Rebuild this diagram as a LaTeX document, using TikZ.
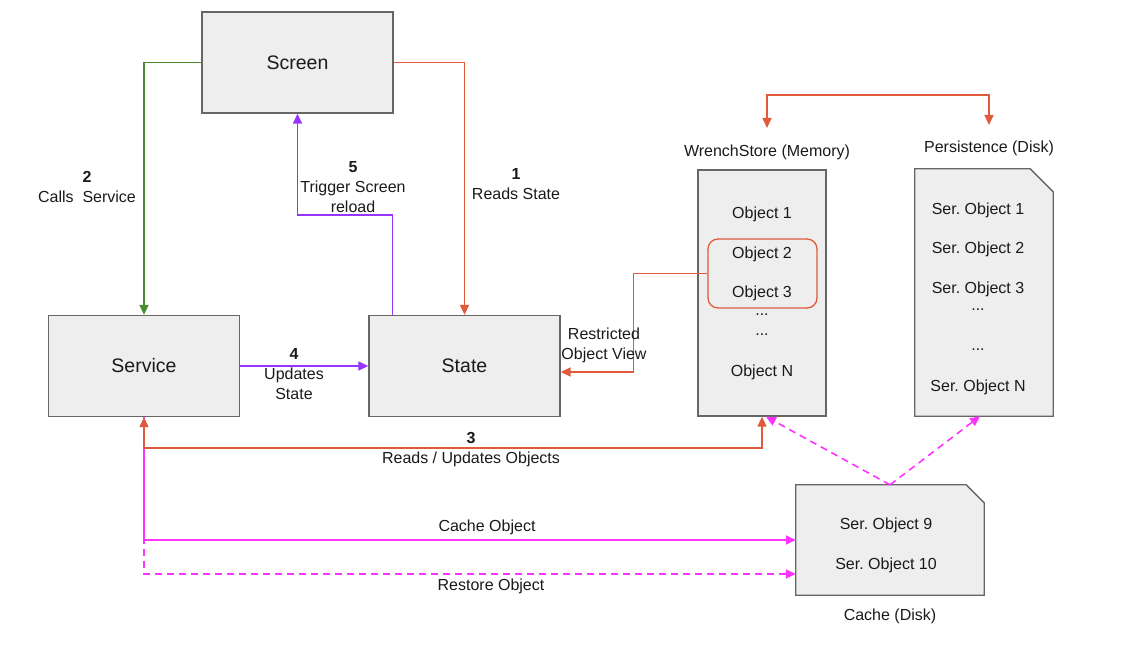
\documentclass[tikz,border=0pt]{standalone}
\usepackage{fontspec}
\setmainfont{Liberation Sans}
\usetikzlibrary{arrows.meta}
\usepackage{xcolor}

\definecolor{boxfill}{HTML}{EEEEEE}
\definecolor{boxline}{HTML}{666666}
\definecolor{readred}{HTML}{E05A3C}
\definecolor{callgreen}{HTML}{4E8A30}
\definecolor{updpurple}{HTML}{9933FF}
\definecolor{cachemag}{HTML}{FF33FF}
\definecolor{textgray}{HTML}{1A1A1A}

\tikzset{
	block/.style={draw=boxline, fill=boxfill, line width=1.3pt, inner sep=0pt,
		minimum width=191pt, minimum height=101pt, text=textgray,
		font=\fontsize{19.5}{22}\selectfont},
	txt/.style={font=\fontsize{16}{20}\selectfont, align=center, inner sep=0pt, text=textgray},
	flow/.style={line width=1.6pt, ->},
	dflow/.style={flow, dash pattern=on 7pt off 5pt},
	>={Triangle[length=10pt,width=9pt]}
}

\begin{document}
\frenchspacing
\begin{tikzpicture}[x=1pt, y=-1pt]
	\useasboundingbox (0,0) rectangle (1126,655);

	\node[block](scr) at (297.5,62.5){Screen};
	\node[block](svc) at (144,366){Service};
	\node[block](st) at (464.5,366){State};

	% memory store
	\node[block, minimum width=128pt, minimum height=246pt](ws) at (762,293){};
	\node[txt](wsl) at (767,152){WrenchStore (Memory)};
	\node[draw=readred, line width=1.3pt, rounded corners=10pt,
		minimum width=109pt, minimum height=69pt](sel) at (762.5,273.5){};
	\node[txt](o1) at (762,214){Object 1};
	\node[txt](o2) at (762,254){Object 2};
	\node[txt](o3) at (762,293){Object 3};
	\node[txt](od1) at (762,315){...};
	\node[txt](od2) at (762,335){...};
	\node[txt](on) at (762,372){Object N};

	% persistence document
	\node[minimum width=138pt, minimum height=247pt](pers) at (984,292.5){};
	\filldraw[draw=boxline, fill=boxfill, line width=1.3pt]
		(pers.south west) -- (pers.north west) -- ([xshift=-23pt]pers.north east)
		-- ([yshift=-23pt]pers.north east) -- (pers.south east) -- cycle;
	\node[txt](psl) at (989,148){Persistence (Disk)};
	\node[txt](p1) at (978,210){Ser. Object 1};
	\node[txt](p2) at (978,249){Ser. Object 2};
	\node[txt](p3) at (978,289){Ser. Object 3};
	\node[txt](pd1) at (978,310){...};
	\node[txt](pd2) at (978,350){...};
	\node[txt](pn) at (978,387){Ser. Object N};

	% cache document
	\node[minimum width=188pt, minimum height=110pt](cache) at (890,540){};
	\filldraw[draw=boxline, fill=boxfill, line width=1.3pt]
		(cache.south west) -- (cache.north west) -- ([xshift=-18pt]cache.north east)
		-- ([yshift=-18pt]cache.north east) -- (cache.south east) -- cycle;
	\node[txt](c9) at (886,525){Ser. Object 9};
	\node[txt](c10) at (886,565){Ser. Object 10};
	\node[txt](cl) at (890,616){Cache (Disk)};

	% screen / service / state
	\draw[flow, callgreen] (scr.west) -| (svc.north);
	\node[txt](l2) at (87,187){\textbf{2}\\Calls~~Service};

	\draw[flow, readred] (scr.east) -| (st.north);
	\node[txt](l1) at (516,184){\textbf{1}\\Reads State};

	\draw[flow, updpurple] ([xshift=-72pt]st.north) -- ++(0,-100) -| (scr.south);
	\node[txt](l5) at (353,187){\textbf{5}\\Trigger Screen\\reload};

	\draw[flow, updpurple] (svc.east) -- (st.west);
	\node[txt](l4) at (294,374){\textbf{4}\\Updates\\State};

	\draw[flow, readred] (sel.west) -- ++(-74,0) |- ([yshift=-6pt]st.east);
	\node[txt](lr) at (604,345){Restricted\\Object View};

	\coordinate (wsin) at (767,128);
	\coordinate (psin) at (989,125);
	\draw[flow, readred, <->] (wsin) -- ++(0,-33) -| (psin);

	% objects and cache
	\draw[flow, cachemag] (svc.south) |- (cache.west);
	\node[txt](lc) at (487,527){Cache Object};

	\draw[dflow, cachemag] (svc.south) |- ([yshift=-34pt]cache.west);
	\node[txt](lrs) at (491,586){Restore Object};

	\draw[flow, readred, <->] (svc.south) -- ++(0,31) -| (ws.south);
	\node[txt](l3) at (471,449.5){\textbf{3}\\Reads / Updates Objects};

	\draw[dflow, cachemag] (cache.north) -- ([xshift=4pt]ws.south);
	\draw[dflow, cachemag] (cache.north) -- ([xshift=-4pt]pers.south);
\end{tikzpicture}
\end{document}
